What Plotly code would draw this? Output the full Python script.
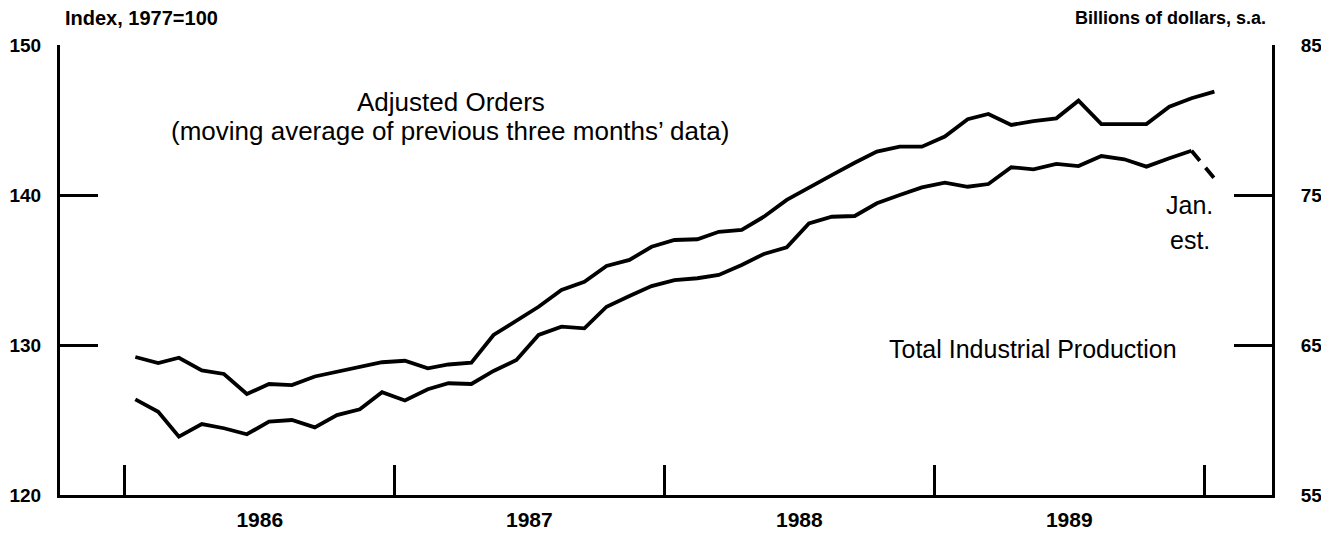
import pandas as pd
import plotly.graph_objects as go

# Monthly observations, Jan 1986 - Jan 1990 (plotted at mid-month)
months = pd.date_range("1986-01-01", periods=49, freq="MS") + pd.Timedelta(days=14)

# Adjusted Orders, billions of dollars, s.a. (right axis)
orders = [64.2, 63.8, 64.15, 63.3, 63.07, 61.73, 62.4, 62.33, 62.9, 63.2, 63.5, 63.85,
          63.95, 63.45, 63.7, 63.82, 65.67, 66.6, 67.55, 68.67, 69.22, 70.27, 70.67, 71.55,
          72.0, 72.05, 72.55, 72.67, 73.55, 74.67, 75.51, 76.33, 77.15, 77.89, 78.22, 78.22,
          78.9, 80.05, 80.4, 79.67, 79.93, 80.11, 81.29, 79.73, 79.73, 79.73, 80.89, 81.45,
          81.89]

# Total Industrial Production, index 1977=100 (left axis); last value is Jan. estimate
production = [126.38, 125.55, 123.89, 124.73, 124.45, 124.05, 124.89, 125.0, 124.51, 125.33,
              125.71, 126.85, 126.3, 127.05, 127.45, 127.4, 128.27, 129.0, 130.67, 131.22,
              131.11, 132.55, 133.27, 133.93, 134.33, 134.45, 134.67, 135.33, 136.07, 136.51,
              138.11, 138.55, 138.6, 139.45, 140.0, 140.51, 140.82, 140.55, 140.73, 141.85,
              141.71, 142.07, 141.93, 142.6, 142.38, 141.89, 142.45, 142.95, 141.11]

left_ticks = [120, 130, 140, 150]
right_ticks = [55, 65, 75, 85]

FONT = "Liberation Sans, Arial, Helvetica, sans-serif"
LW = 3.8

fig = go.Figure()
fig.add_trace(go.Scatter(x=months, y=orders, mode="lines", yaxis="y2",
                         line=dict(color="black", width=LW), name="Adjusted Orders"))
fig.add_trace(go.Scatter(x=months[:-1], y=production[:-1], mode="lines",
                         line=dict(color="black", width=LW), name="Total Industrial Production"))
fig.add_trace(go.Scatter(x=months[-2:], y=production[-2:], mode="lines",
                         line=dict(color="black", width=LW, dash="13px,9px"), name="Jan. est."))

line_style = dict(showline=True, linecolor="black", linewidth=3, ticks="inside",
                  tickcolor="black", tickwidth=3, showgrid=False, zeroline=False,
                  automargin=False)
tick_font = dict(family=FONT, size=19, color="black", weight="bold")

# The page body has an 8px default margin, so the figure is sized to fit the window.
fig.update_layout(
    width=1321, height=526,
    margin=dict(l=52, r=57, t=37, b=39, pad=0),
    paper_bgcolor="white", plot_bgcolor="white",
    showlegend=False,
    font=dict(family=FONT, color="black"),
    xaxis=dict(type="date", range=["1985-10-05", "1990-04-03"],
               tick0="1986-01-01", dtick="M12", tickformat="%Y", ticklabelmode="period",
               ticklen=30, ticklabelstandoff=4,
               tickfont=dict(family=FONT, size=21, color="black", weight="bold"),
               **line_style),
    yaxis=dict(range=[120, 150], tickvals=left_ticks, ticklen=38,
               ticklabelstandoff=12, tickfont=tick_font, **line_style),
    yaxis2=dict(range=[55, 85], tickvals=right_ticks, ticklen=38, side="right",
                overlaying="y", ticklabelstandoff=22, tickfont=tick_font, **line_style),
)

ann_font = dict(family=FONT, size=25, color="black")
fig.add_annotation(x=0.0025, y=1.06, xref="paper", yref="paper", xanchor="left",
                   yanchor="middle", showarrow=False, text="Index, 1977=100",
                   font=dict(family=FONT, size=20, color="black", weight="bold"))
fig.add_annotation(x=0.9967, y=1.06, xref="paper", yref="paper", xanchor="right",
                   yanchor="middle", showarrow=False, text="Billions of dollars, s.a.",
                   font=dict(family=FONT, size=18, color="black", weight="bold"))
fig.add_annotation(x=0.3230, y=0.8733, xref="paper", yref="paper", xanchor="center",
                   yanchor="middle", showarrow=False, text="Adjusted Orders",
                   font=dict(family=FONT, size=26, color="black"))
fig.add_annotation(x=0.3218, y=0.8089, xref="paper", yref="paper", xanchor="center",
                   yanchor="middle", showarrow=False,
                   text="(moving average of previous three months\u2019 data)",
                   font=dict(family=FONT, size=26, color="black"))
fig.add_annotation(x=0.8032, y=0.3244, xref="paper", yref="paper", xanchor="center",
                   yanchor="middle", showarrow=False, text="Total Industrial Production",
                   font=ann_font)
fig.add_annotation(x=0.9323, y=0.6444, xref="paper", yref="paper", xanchor="center",
                   yanchor="middle", showarrow=False, text="Jan.", font=ann_font)
fig.add_annotation(x=0.9323, y=0.5667, xref="paper", yref="paper", xanchor="center",
                   yanchor="middle", showarrow=False, text="est.", font=ann_font)

fig.write_html("out.html")
